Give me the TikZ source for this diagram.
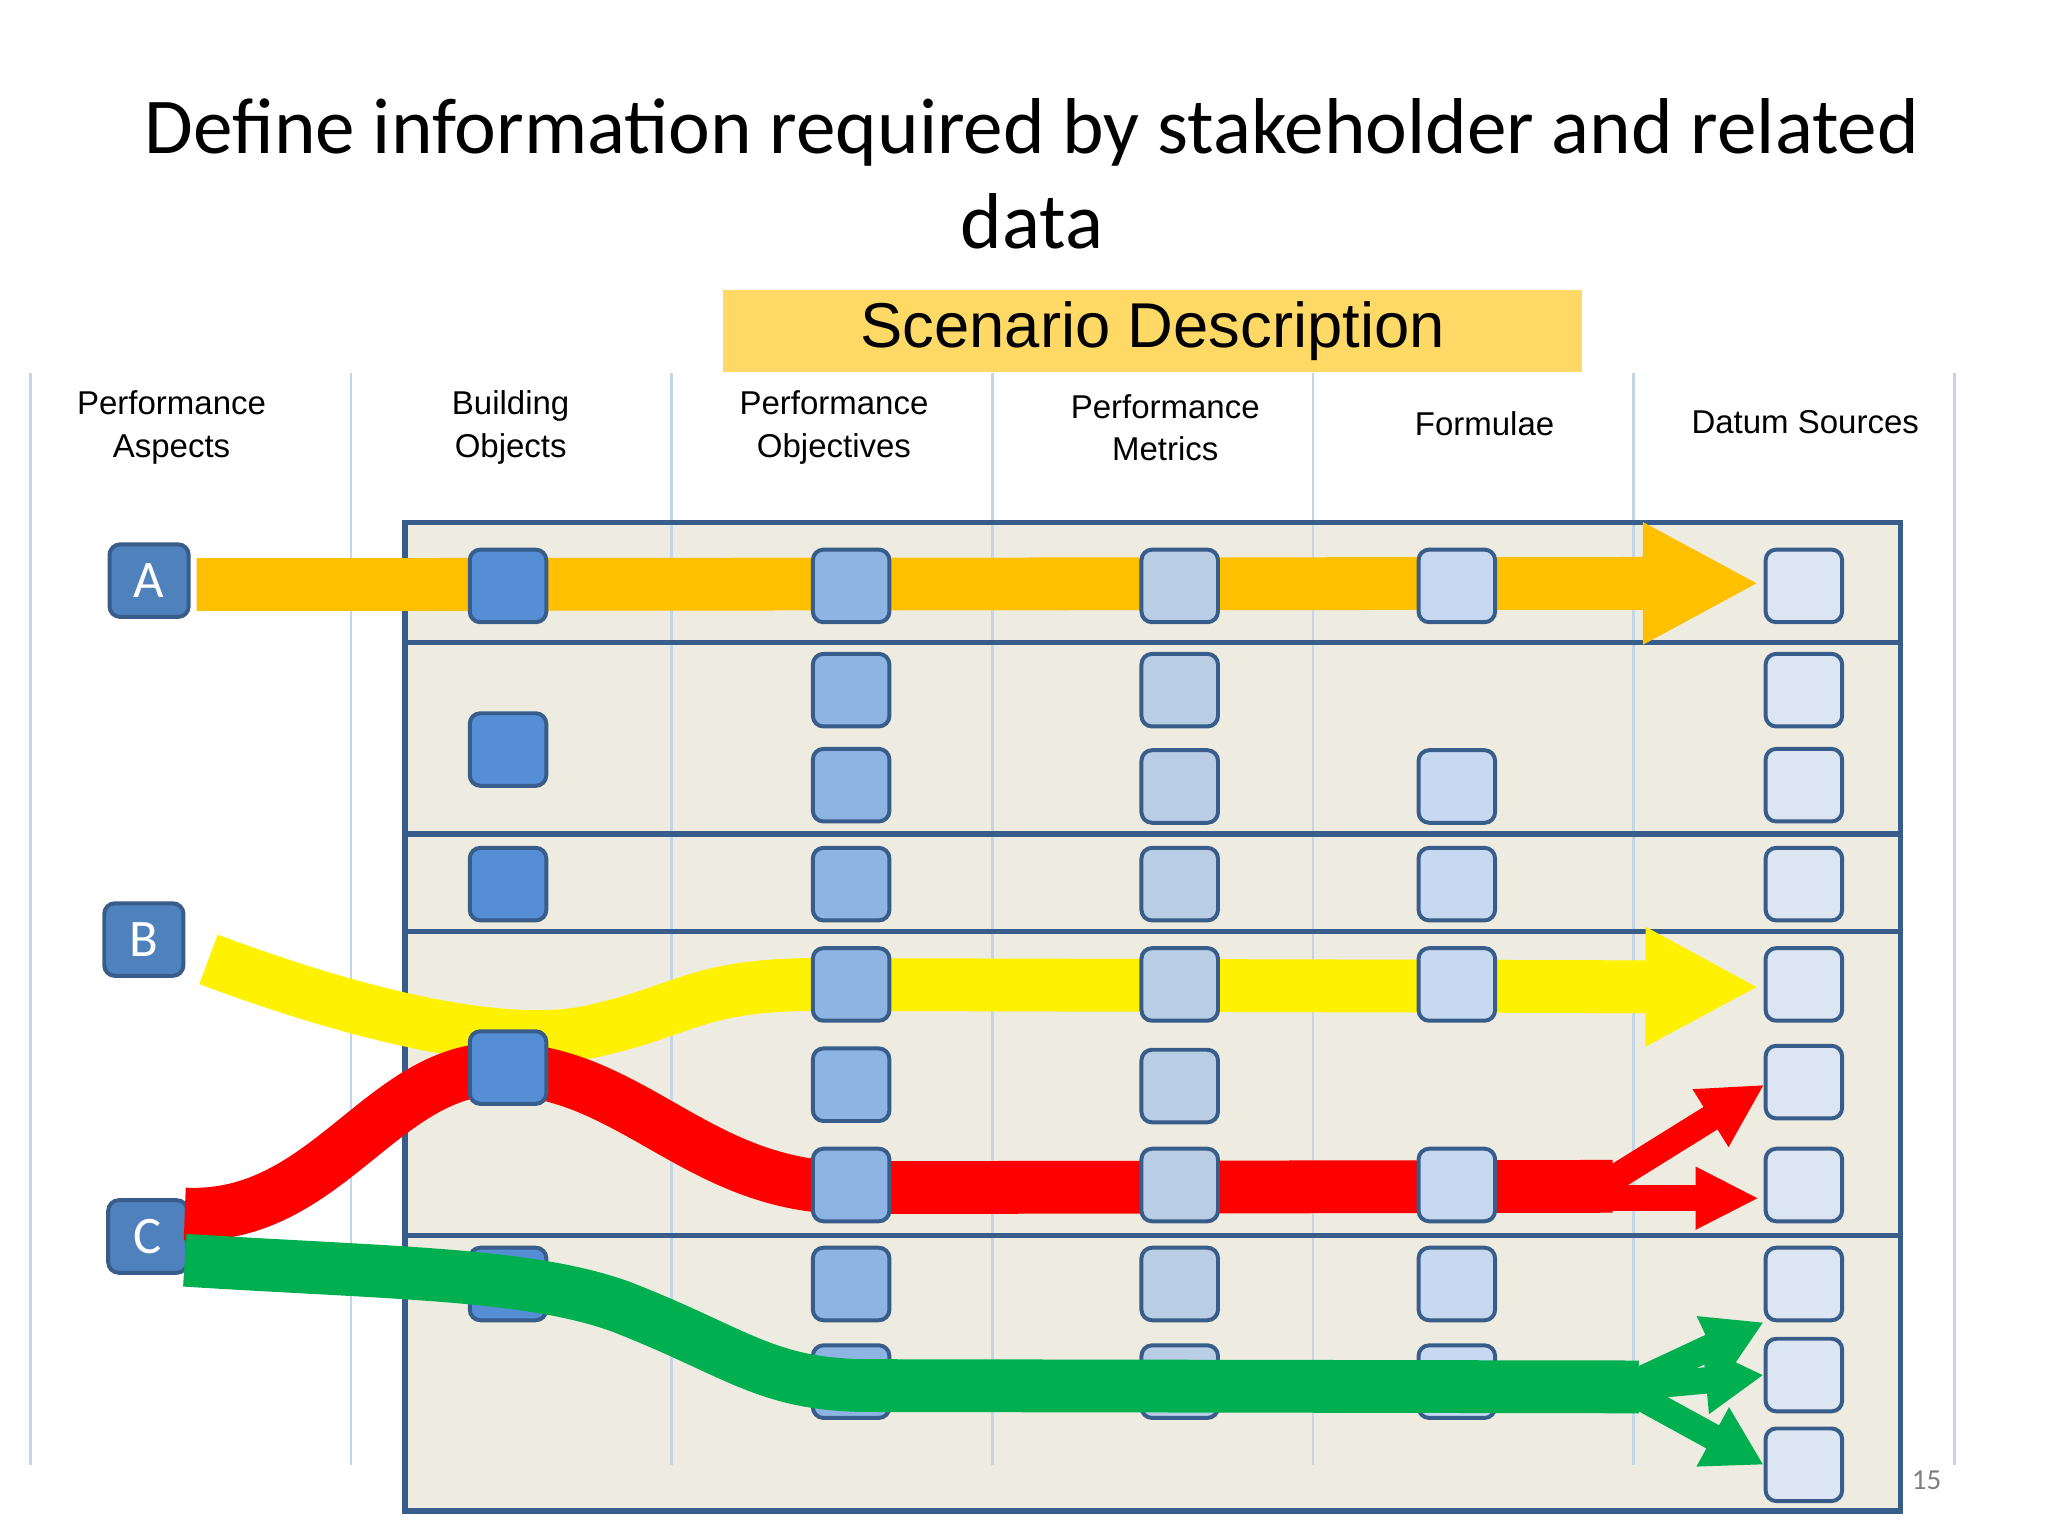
\documentclass[tikz,border=0pt]{standalone}
\usepackage{fontspec}
\setmainfont{Liberation Sans}
\newfontfamily\carl{Carlito}
\usetikzlibrary{arrows.meta}
\definecolor{frameblue}{HTML}{385D8A}
\definecolor{gridblue}{HTML}{C5D5E8}
\definecolor{beige}{HTML}{EEEBE0}
\definecolor{c2}{HTML}{558ED5}
\definecolor{c3}{HTML}{8EB4E3}
\definecolor{c4}{HTML}{B9CDE5}
\definecolor{c5}{HTML}{C6D9F1}
\definecolor{c6}{HTML}{DCE6F2}
\definecolor{letterblue}{HTML}{4F81BD}
\definecolor{banner}{HTML}{FFD966}
\definecolor{orangeband}{HTML}{FFC000}
\definecolor{greenband}{HTML}{00B050}
\tikzset{
  sq/.style={draw=frameblue,line width=1.5pt,rounded corners=4pt,minimum width=29pt,minimum height=27.5pt,inner sep=0pt},
  letter/.style={sq,fill=letterblue,minimum width=30pt,text=white,font=\carl\fontsize{20}{20}\selectfont},
  hdr/.style={align=center,font=\fontsize{12.5}{16}\selectfont},
  band/.style={line width=20pt},
  branch/.style={line width=10pt},
}
\begin{document}
\begin{tikzpicture}[x=0.5pt,y=-0.5pt]
\useasboundingbox (0,0) rectangle (1552,1164);
\fill[white] (0,0) rectangle (1552,1164);
\node[font=\carl\fontsize{30}{36}\selectfont,align=center] (title) at (782,132) {Define information required by stakeholder and related\\data};
\node[fill=banner,minimum width=325.5pt,minimum height=31pt,inner sep=0pt,font=\fontsize{24}{24}\selectfont] (ban) at (873.5,251) {Scenario Description};
\fill[beige,draw=frameblue,line width=2pt] (307,396) rectangle (1440,1145);
\foreach \x in {23,266,509,752,995,1238,1481} \draw[gridblue,line width=1pt] (\x,283) -- (\x,1110);
\foreach \y in {487,632,706,936} \draw[frameblue,line width=2pt] (307,\y) -- (1440,\y);
\draw[frameblue,line width=2pt] (307,396) rectangle (1440,1145);
\node[hdr] (h1) at (130,324) {Performance\\Aspects};
\node[hdr] (h2) at (387,324) {Building\\Objects};
\node[hdr] (h3) at (632,324) {Performance\\Objectives};
\node[hdr] (h4) at (883,324) {Performance\\Metrics};
\node[hdr] (h5) at (1125,321) {Formulae};
\node[hdr] (h6) at (1368,320) {Datum Sources};
\node[letter] (A) at (113,440) {A};
\node[letter] (B) at (109,712) {B};
\node[letter] (C) at (112,937) {C};
% bands
\draw[band,orangeband,-{Triangle[width=43pt,length=44pt]}] (149,443) -- (1333,442);
\draw[band,yellow,-{Triangle[width=42pt,length=43pt]}] (158,727) .. controls (300,780) and (400,795) .. (455,780) .. controls (520,765) and (530,746) .. (620,746) -- (1333,748);
\draw[band,red] (140,920) .. controls (250,925) and (290,805) .. (385,810) .. controls (480,815) and (530,898) .. (640,900) -- (1222,899);
\draw[branch,red,-{Triangle[width=24pt,length=24pt]}] (1218,896) -- (1337,822);
\draw[branch,red,-{Triangle[width=22pt,length=24pt]}] (1218,908) -- (1333,908);
% squares
\foreach \y/\n in {444/a,670/c,973/e} {
  \node[sq,fill=c2] (s2\n) at (385,\y) {};
  \node[sq,fill=c3] (s3\n) at (645,\y) {};
  \node[sq,fill=c4] (s4\n) at (894,\y) {};
  \node[sq,fill=c5] (s5\n) at (1104,\y) {};
  \node[sq,fill=c6] (s6\n) at (1367,\y) {};
}
\node[sq,fill=c3] (s3b) at (645,523) {};
\node[sq,fill=c4] (s4b) at (894,523) {};
\node[sq,fill=c6] (s6b) at (1367,523) {};
\node[sq,fill=c2] (s2b) at (385,568) {};
\node[sq,fill=c3] (s3bb) at (645,595) {};
\node[sq,fill=c4] (s4bb) at (894,596) {};
\node[sq,fill=c5] (s5bb) at (1104,596) {};
\node[sq,fill=c6] (s6bb) at (1367,595) {};
\node[sq,fill=c3] (s3d) at (645,746) {};
\node[sq,fill=c4] (s4d) at (894,746) {};
\node[sq,fill=c5] (s5d) at (1104,746) {};
\node[sq,fill=c6] (s6d) at (1367,746) {};
\node[sq,fill=c2] (s2dd) at (385,809) {};
\node[sq,fill=c3] (s3dd) at (645,822) {};
\node[sq,fill=c4] (s4dd) at (894,823) {};
\node[sq,fill=c6] (s6dd) at (1367,820) {};
\node[sq,fill=c3] (s3r) at (645,898) {};
\node[sq,fill=c4] (s4r) at (894,898) {};
\node[sq,fill=c5] (s5r) at (1104,898) {};
\node[sq,fill=c6] (s6r) at (1367,898) {};
\node[sq,fill=c3] (s3f) at (645,1047) {};
\node[sq,fill=c4] (s4f) at (894,1047) {};
\node[sq,fill=c5] (s5f) at (1104,1047) {};
\node[sq,fill=c6] (s6f) at (1367,1042) {};
\node[sq,fill=c6] (s6g) at (1367,1110) {};
% green
\draw[band,greenband] (140,955) .. controls (300,965) and (400,965) .. (470,990) .. controls (560,1025) and (580,1050) .. (660,1050) -- (1242,1051);
\draw[branch,greenband,-{Triangle[width=24pt,length=22pt]}] (1238,1048) -- (s6e.south west);
\draw[branch,greenband,-{Triangle[width=24pt,length=22pt]}] (1240,1051) -- (s6f.west);
\draw[branch,greenband,-{Triangle[width=24pt,length=22pt]}] (1238,1056) -- (s6g.west);
\node[text=gray,font=\carl\fontsize{11}{11}\selectfont] (pg) at (1460,1122) {15};
\end{tikzpicture}
\end{document}
